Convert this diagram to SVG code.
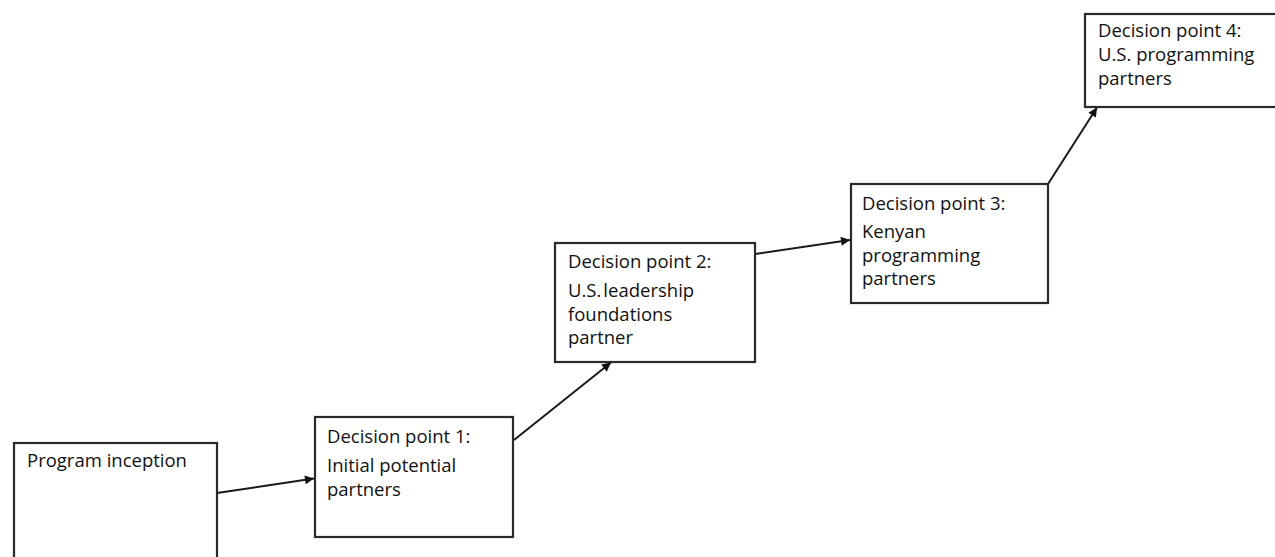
<svg xmlns="http://www.w3.org/2000/svg" width="1275" height="557" viewBox="0 0 1275 557">
<style>
.box{fill:#fff;stroke:#2a2a2a;stroke-width:2.2}
.t{font-family:"Open Sans","Noto Sans",sans-serif;font-size:18.5px;fill:#111}
.c{stroke:#1a1a1a;stroke-width:2;fill:none}
</style>
<defs>
<marker id="ah" viewBox="0 0 10 10" refX="10" refY="5" markerWidth="5.5" markerHeight="4.5" markerUnits="strokeWidth" orient="auto">
<path d="M0,0 L10,5 L0,10 z" fill="#111"/>
</marker>
</defs>
<rect width="1275" height="557" fill="#fff"/>
<g id="connectors">
<line class="c" x1="217" y1="493" x2="314" y2="478.5" marker-end="url(#ah)"/>
<line class="c" x1="514" y1="440" x2="611" y2="362.5" marker-end="url(#ah)"/>
<line class="c" x1="755" y1="254" x2="850" y2="240" marker-end="url(#ah)"/>
<line class="c" x1="1048" y1="184" x2="1097" y2="107.5" marker-end="url(#ah)"/>
</g>
<g id="node0">
<rect class="box" x="14" y="443" width="203" height="130"/>
<text class="t" x="27" y="467">Program inception</text>
</g>
<g id="node1">
<rect class="box" x="315" y="417" width="198" height="120"/>
<text class="t" x="327" y="443">Decision point 1:</text>
<text class="t" x="327" y="472">Initial potential</text>
<text class="t" x="327" y="496">partners</text>
</g>
<g id="node2">
<rect class="box" x="555" y="243" width="200" height="119"/>
<text class="t" x="568" y="268">Decision point 2:</text>
<text class="t" x="568" y="297">U.S.<tspan dx="2">leadership</tspan></text>
<text class="t" x="568" y="321">foundations</text>
<text class="t" x="568" y="344">partner</text>
</g>
<g id="node3">
<rect class="box" x="851" y="184" width="197" height="119"/>
<text class="t" x="862" y="210">Decision point 3:</text>
<text class="t" x="862" y="238">Kenyan</text>
<text class="t" x="862" y="262">programming</text>
<text class="t" x="862" y="285">partners</text>
</g>
<g id="node4">
<rect class="box" x="1085" y="14" width="200" height="93"/>
<text class="t" x="1098" y="37">Decision point 4:</text>
<text class="t" x="1098" y="61">U.S. programming</text>
<text class="t" x="1098" y="85">partners</text>
</g>
</svg>
